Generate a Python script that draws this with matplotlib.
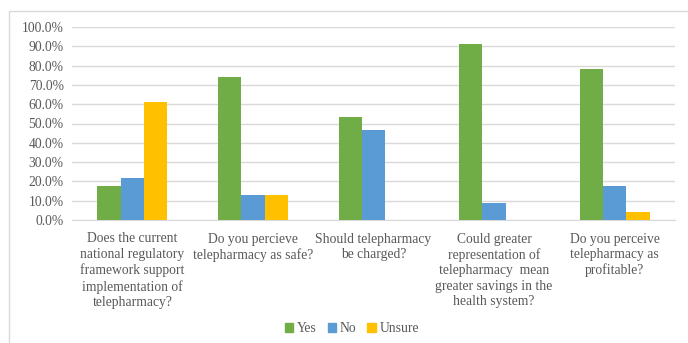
import numpy as np
import matplotlib.pyplot as plt
from matplotlib.patches import Rectangle, Patch
from matplotlib.ticker import FuncFormatter

# Survey answers (share of respondents)
questions = [
    "Does the current\nnational regulatory\nframework support\nimplementation of\ntelepharmacy?",
    "Do you percieve\ntelepharmacy as safe?",
    "Should telepharmacy\nbe charged?",
    "Could greater\nrepresentation of\ntelepharmacy  mean\ngreater savings in the\nhealth system?",
    "Do you perceive\ntelepharmacy as\nprofitable?",
]
yes = [0.174, 0.739, 0.533, 0.913, 0.783]
no = [0.217, 0.130, 0.467, 0.087, 0.174]
unsure = [0.609, 0.130, 0.0, 0.0, 0.043]
series_names = ["Yes", "No", "Unsure"]
colors = ["#70AD47", "#5B9BD5", "#FFC000"]

plt.rcParams['font.family'] = ['Liberation Serif', 'DejaVu Serif']

W, H = 688, 343
fig = plt.figure(figsize=(W / 100, H / 100), dpi=100)
ax = fig.add_axes([72 / W, 1 - 220 / H, (675 - 72) / W, (220 - 27) / H])

# chart area border
fig.patches.append(Rectangle((9 / W, -0.1), 1.2, 1 - 11 / H + 0.1,
                             transform=fig.transFigure, fill=False,
                             edgecolor='#D9D9D9', linewidth=1))

x = np.arange(len(questions))
bw = 0.193
for i, (vals, c) in enumerate(zip([yes, no, unsure], colors)):
    ax.bar(x + (i - 1) * bw, vals, width=bw, color=c, zorder=3)

ax.set_xlim(-0.5, len(questions) - 0.5)
ax.set_ylim(0, 1.0)
ax.set_yticks(np.arange(0, 1.01, 0.1))
ax.yaxis.set_major_formatter(FuncFormatter(lambda v, p: f"{v * 100:.1f}%"))
ax.grid(axis='y', color='#D9D9D9', linewidth=1, zorder=0)
for s in ['top', 'right', 'left']:
    ax.spines[s].set_visible(False)
ax.spines['bottom'].set_color('#D9D9D9')
ax.tick_params(axis='y', length=0, labelsize=9.8, labelcolor='#595959', pad=6)
ax.set_xticks(x)
ax.set_xticklabels(questions, fontsize=9.8, color='#595959', linespacing=1.24)
ax.tick_params(axis='x', length=0, pad=9)

handles = [Patch(color=c) for c in colors]
fig.legend(handles, series_names, loc='center', bbox_to_anchor=(352 / W, 1 - 329 / H),
           ncol=3, frameon=False, fontsize=9.8, handlelength=0.6, handleheight=0.6,
           handletextpad=0.3, columnspacing=0.8, labelcolor='#595959')

fig.savefig('out.png', dpi=100)
